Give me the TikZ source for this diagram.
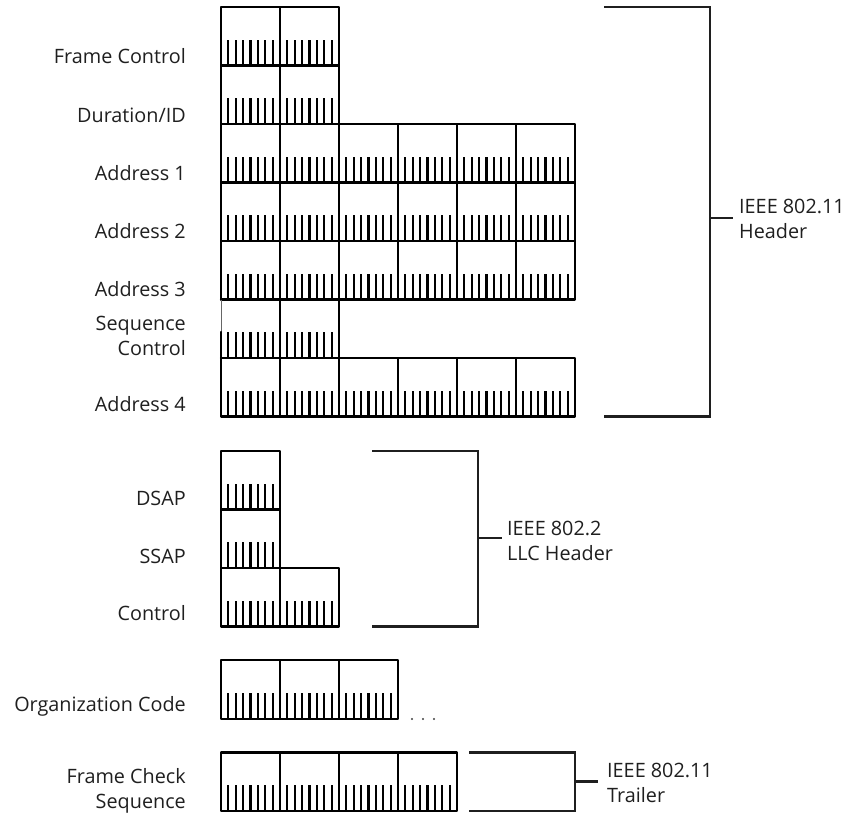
\documentclass[tikz,border=0pt]{standalone}
\usepackage{fontspec}
\setmainfont{Open Sans}
\begin{document}
\begin{tikzpicture}[x=1pt,y=-1pt,
  boxline/.style={line width=2.3pt,line join=round,line cap=round},
  bittick/.style={line width=2.1pt},
  brack/.style={line width=2.2pt,color=black!88},
  lbl/.style={font=\fontsize{19.8}{25}\selectfont,text=black!88,inner sep=0pt},
  rlbl/.style={lbl,anchor=base east,align=right},
  blbl/.style={lbl,anchor=west,align=left}]
\useasboundingbox (0,0) rectangle (845,814);
\newcommand{\byterow}[4]{% #1=ytop #2=n #3=height #4=x start
  \foreach \i in {1,...,#2} {
    \pgfmathsetmacro\xa{#4+(\i-1)*59}
    \draw[boxline] (\xa,#1) rectangle ++(59,#3);
    \foreach \k in {1,...,7} {\draw[bittick] (\xa+\k*7.375,#1+#3) -- ++(0,-26);}
  }}
% IEEE 802.11 header
\byterow{7}{2}{58.5}{221}
\byterow{65.5}{2}{58.5}{221}
\byterow{124}{6}{58.5}{221}
\byterow{182.5}{6}{58.5}{221}
\byterow{241}{6}{58.5}{221}
% sequence control (faint left edge)
\foreach \i in {1,2} {
  \pgfmathsetmacro\xa{221+(\i-1)*59}
  \draw[boxline] (\xa,299.5) -- ++(59,0) -- ++(0,58.5) -- ++(-59,0);
  \foreach \k in {1,...,7} {\draw[bittick] (\xa+\k*7.375,358) -- ++(0,-26);}
}
\draw[line width=0.7pt,black!60] (221,299.5) -- (221,332);
\draw[boxline] (221,332) -- (221,358);
\byterow{358}{6}{58.5}{221}
% LLC
\byterow{451}{1}{58.5}{221}
\byterow{509.5}{1}{58.5}{221}
\byterow{568}{2}{58.5}{221}
% organization code
\byterow{660}{3}{59}{221}
\foreach \x in {412,423,434} {\fill[black!75] (\x,719) circle (1.1pt);}
% FCS
\byterow{752.5}{4}{58.5}{221}
% labels
\node[rlbl] (fc) at (186,63) {Frame Control};
\node[rlbl] (dur) at (186,122) {Duration/ID};
\node[rlbl] (a1) at (186,180) {Address 1};
\node[rlbl] (a2) at (186,238) {Address 2};
\node[rlbl] (a3) at (186,296) {Address 3};
\node[rlbl] (sc) at (186,355) {Sequence\\Control};
\node[rlbl] (a4) at (186,411) {Address 4};
\node[rlbl] (dsap) at (186,505) {DSAP};
\node[rlbl] (ssap) at (186,563) {SSAP};
\node[rlbl] (ctl) at (186,620) {Control};
\node[rlbl] (org) at (186,711) {Organization Code};
\node[rlbl] (fcs) at (186,808) {Frame Check\\Sequence};
% brackets
\coordinate (h1) at (604,7); \coordinate (h2) at (604,416.5);
\coordinate (hm) at (710,218);
\draw[brack] (h1) -- (710,7) -- (710,416.5) -- (h2);
\node[blbl] (hdr) at (739,219) {IEEE 802.11\\Header};
\draw[brack] (hm) -- (733,218);
\coordinate (l1) at (372,451); \coordinate (l2) at (372,626.5);
\coordinate (lm) at (478,538);
\draw[brack] (l1) -- (478,451) -- (478,626.5) -- (l2);
\node[blbl] (llc) at (507,541) {IEEE 802.2\\LLC Header};
\draw[brack] (lm) -- (502,538);
\coordinate (t1) at (469,752.5); \coordinate (t2) at (469,811);
\coordinate (tm) at (575,781.5);
\draw[brack] (t1) -- (575,752.5) -- (575,811) -- (t2);
\node[blbl] (trl) at (607,783) {IEEE 802.11\\Trailer};
\draw[brack] (tm) -- (598,781.5);
\end{tikzpicture}
\end{document}
